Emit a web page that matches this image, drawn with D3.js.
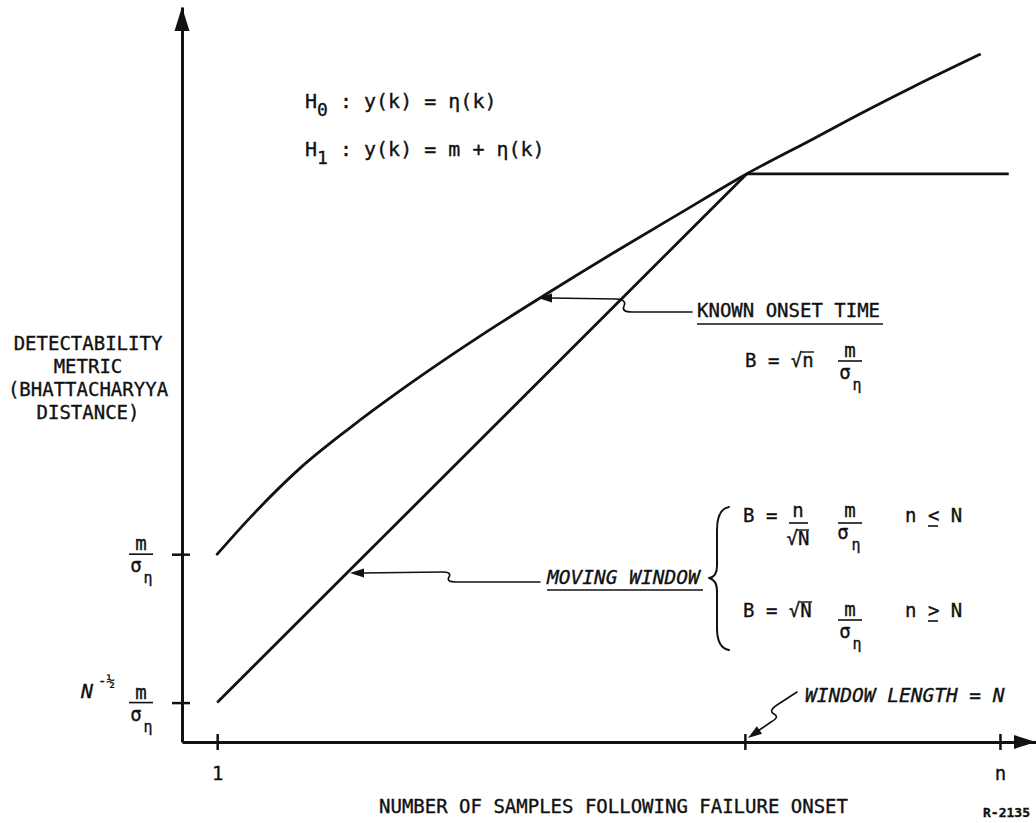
<!DOCTYPE html>
<html>
<head>
<meta charset="utf-8">
<script src="https://cdn.jsdelivr.net/npm/d3@7"></script>
<style>
  body { margin: 0; background: #fff; }
  svg text { font-family: "DejaVu Sans Mono", monospace; fill: #111; stroke: #111; stroke-width: 0.35px; }
</style>
</head>
<body>
<div id="chart"></div>
<script>
// n = samples after failure onset, B = Bhattacharyya distance in units of m/sigma
const knownN  = [1.0, 1.38, 1.94, 2.51, 3.08, 3.65, 4.19, 4.67, 5.55, 6.26, 7.02, 7.77, 8.34, 8.91, 9.67];
const knownB  = [1.0, 1.16, 1.37, 1.545, 1.705, 1.855, 1.99, 2.105, 2.31, 2.47, 2.64, 2.79, 2.905, 3.015, 3.155];
const movingN = [1.0, 7.02, 10.0];
const movingB = [0.36, 2.64, 2.64];
const xTicks = [1, 7, 9.9];
const xTickLabels = ["1", "", "n"];
const yTicks = [0.36, 1];
const yLabelLines = ["DETECTABILITY", "METRIC", "(BHATTACHARYYA", "DISTANCE)"];
const xTitle = "NUMBER OF SAMPLES FOLLOWING FAILURE ONSET";

const width = 1036, height = 823;

const svg = d3.select("#chart")
    .append("svg")
    .attr("width", width)
    .attr("height", height);

const x = d3.scaleLinear().domain([0.6, 10.31]).range([182, 1036]);
const y = d3.scaleLinear().domain([0.19, 3.36]).range([742, 7]);
const x0 = x.range()[0], y0 = y.range()[0];

// helpers
function txt(px, py, s, size, opts = {}) {
    const t = svg.append("text")
        .attr("x", px).attr("y", py)
        .style("font-size", size + "px")
        .text(s);
    if (opts.anchor) t.attr("text-anchor", opts.anchor);
    if (opts.italic) t.style("font-style", "italic");
    if (opts.weight) t.style("font-weight", opts.weight);
    return t;
}
function seg(x1, y1, x2, y2, w = 1.6) {
    svg.append("line")
        .attr("x1", x1).attr("y1", y1).attr("x2", x2).attr("y2", y2)
        .attr("stroke", "#111").attr("stroke-width", w);
}
function head(tx, ty, fx, fy, len = 14, hw = 4.5) {
    const a = Math.atan2(ty - fy, tx - fx);
    const bx = tx - len * Math.cos(a), by = ty - len * Math.sin(a);
    const px = -Math.sin(a) * hw, py = Math.cos(a) * hw;
    svg.append("path")
        .attr("d", `M${tx},${ty}L${bx + px},${by + py}L${bx - px},${by - py}Z`)
        .attr("fill", "#111");
}
function pathStroke(d, w = 1.6) {
    svg.append("path").attr("d", d).attr("fill", "none")
        .attr("stroke", "#111").attr("stroke-width", w)
        .attr("stroke-linecap", "round").attr("stroke-linejoin", "round");
}
function frac(cx, barY, top, bot, sub, size = 19) {
    // m over sigma_eta style fraction
    txt(cx, barY - 4, top, size, { anchor: "middle" });
    seg(cx - 12, barY, cx + 12, barY, 1.6);
    txt(cx - 5, barY + 18, bot, size, { anchor: "middle" });
    if (sub) txt(cx + 7, barY + 29, sub, 15, { anchor: "middle" });
}

// axes
const xAxis = d3.axisBottom(x).tickValues(xTicks).tickSize(8).tickSizeOuter(0)
    .tickFormat((d, i) => xTickLabels[i]);
const gx = svg.append("g").attr("transform", `translate(0,${y0})`).call(xAxis)
    .attr("font-family", null).attr("font-size", null);
gx.select(".domain").attr("stroke", "#111").attr("stroke-width", 3);
gx.selectAll(".tick line").attr("y1", -8).attr("y2", 8).attr("stroke", "#111").attr("stroke-width", 2.5);
gx.selectAll(".tick text").attr("y", 38).attr("dy", 0).style("font-size", "19px");

const yAxis = d3.axisLeft(y).tickValues(yTicks).tickSizeOuter(0).tickFormat("");
const gy = svg.append("g").attr("transform", `translate(${x0},0)`).call(yAxis);
gy.select(".domain").attr("stroke", "#111").attr("stroke-width", 3);
gy.selectAll(".tick line").attr("x1", -10).attr("x2", 8).attr("stroke", "#111").attr("stroke-width", 2.5);

head(x.range()[1], y0, x.range()[1] - 30, y0, 22, 7);
head(x0, y.range()[1], x0, y.range()[1] + 30, 24, 7.5);

// curves
const knownData = knownN.map((n, i) => ({ n, b: knownB[i] }));
const movingData = movingN.map((n, i) => ({ n, b: movingB[i] }));

const curve = d3.line().x(d => x(d.n)).y(d => y(d.b)).curve(d3.curveMonotoneX);
const straight = d3.line().x(d => x(d.n)).y(d => y(d.b));

svg.append("path").datum(knownData).attr("d", curve)
    .attr("fill", "none").attr("stroke", "#111").attr("stroke-width", 2.8).attr("stroke-linecap", "round");
svg.append("path").datum(movingData).attr("d", straight)
    .attr("fill", "none").attr("stroke", "#111").attr("stroke-width", 2.8).attr("stroke-linejoin", "round");

// y tick labels
yTicks.forEach(v => frac(141, y(v), "m", "σ", "η"));
txt(81, y(yTicks[0]) - 5, "N", 20, { italic: true });
txt(98, y(yTicks[0]) - 17, "-½", 14);

// axis titles
yLabelLines.forEach((s, i) => txt(88, 350 + i * 23, s, 19, { anchor: "middle" }));
txt(848, 813, xTitle, 19, { anchor: "end" });
txt(1030, 817, "R-2135", 13, { anchor: "end", weight: "bold" });

// hypotheses
const h0 = txt(305, 108, "H", 20);
h0.append("tspan").attr("dy", 8).style("font-size", "18px").text("0");
h0.append("tspan").attr("dy", -8).text(" : y(k) = η(k)");
const h1 = txt(305, 156, "H", 20);
h1.append("tspan").attr("dy", 8).style("font-size", "18px").text("1");
h1.append("tspan").attr("dy", -8).text(" : y(k) = m + η(k)");

// known onset annotation
txt(697, 317, "KNOWN ONSET TIME", 19);
seg(697, 324, 883, 324, 1.6);
pathStroke("M692,312 L632,312 Q621,312 624,306 Q627,300 617,299 L550,298");
head(538, 298, 552, 298);
txt(745, 367, "B = √n", 19);
seg(802, 352, 814, 352, 1.4);
frac(850, 361, "m", "σ", "η");

// moving window annotation
txt(547, 584, "MOVING WINDOW", 19.5, { italic: true });
seg(547, 590, 703, 590, 1.6);
pathStroke("M540,582 L456,582 Q446,582 449,577 Q452,572 442,572 L362,573");
head(350, 573, 364, 573);
pathStroke("M729,507 Q717,509 717,530 L717,566 Q717,577 709,578 Q717,580 717,591 L717,628 Q717,648 729,650", 2);

// n <= N row
txt(743, 522, "B =", 19);
txt(798, 517, "n", 19, { anchor: "middle" });
seg(789, 523, 808, 523, 1.6);
txt(798, 545, "√N", 19, { anchor: "middle" });
seg(797, 530, 809, 530, 1.4);
txt(850, 517, "m", 19, { anchor: "middle" });
seg(838, 523, 862, 523, 1.6);
txt(843, 539, "σ", 19, { anchor: "middle" });
txt(856, 550, "η", 15, { anchor: "middle" });
txt(905, 522, "n < N", 19);
seg(928, 526, 938, 526, 1.6);

// n >= N row
txt(743, 617, "B = √N", 19);
seg(800, 602, 812, 602, 1.4);
frac(850, 620, "m", "σ", "η");
txt(905, 617, "n > N", 19);
seg(928, 621, 938, 621, 1.6);

// window length annotation
txt(805, 702, "WINDOW LENGTH = N", 19.5, { italic: true });
pathStroke("M797,692 L777,705 Q768,711 774,714 Q780,717 771,722 L758,731");
head(748, 738, 758, 731);
</script>
</body>
</html>
